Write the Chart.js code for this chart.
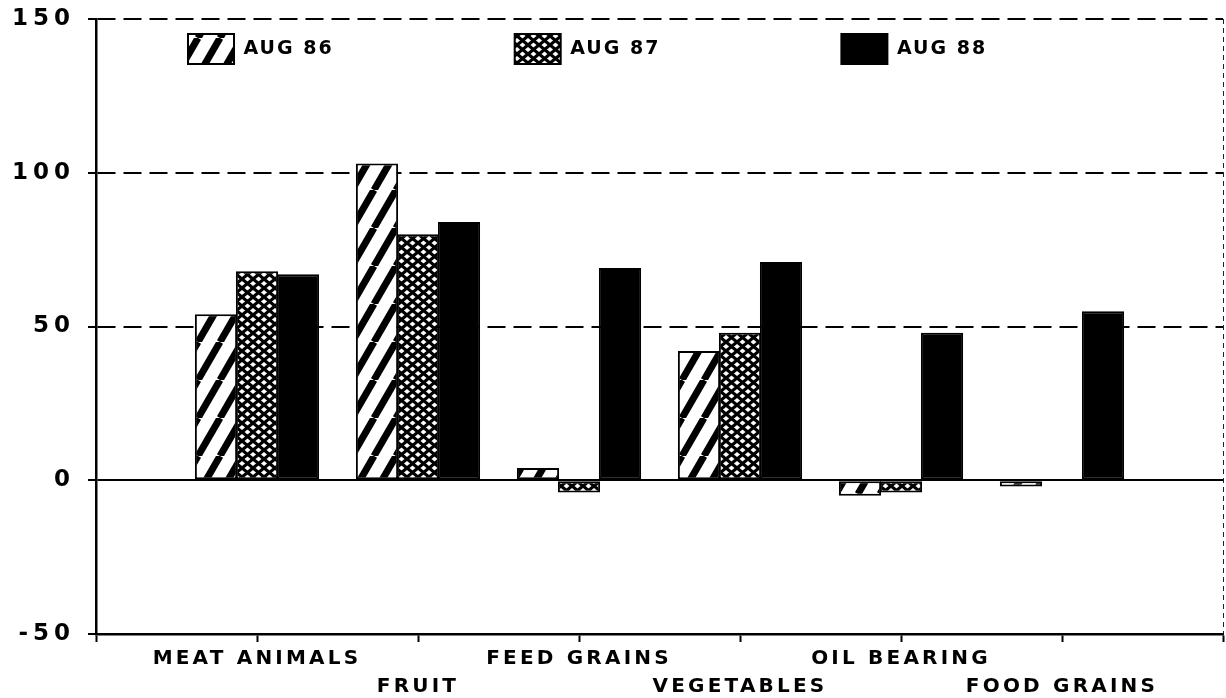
<!DOCTYPE html>
<html><head><meta charset="utf-8">
<script src="https://cdn.jsdelivr.net/npm/chart.js@4/dist/chart.umd.min.js"></script>
<style>html,body{margin:0;padding:0;background:#fff}#wrap{width:1226px;height:698px;position:relative}</style>
</head><body><div id="wrap"><canvas id="c"></canvas></div>
<script>
const categories = ['MEAT ANIMALS','FRUIT','FEED GRAINS','VEGETABLES','OIL BEARING','FOOD GRAINS'];
const seriesNames = ['AUG 86','AUG 87','AUG 88'];
const aug86 = [54, 103, 4, 42, -5, -2];
const aug87 = [68, 80, -4, 48, -4, 0];
const aug88 = [67, 84, 69, 71, 48, 55];
const yTickValues = [-50, 0, 50, 100, 150];

const canvas = document.getElementById('c');
const mainCtx = canvas.getContext('2d');

function makeHatch() {
  const w = 22, h = 38;
  const c = document.createElement('canvas'); c.width = w; c.height = h;
  const g = c.getContext('2d');
  g.fillStyle = '#fff'; g.fillRect(0, 0, w, h);
  g.strokeStyle = '#000'; g.lineWidth = 7;
  for (const k of [-1, 0, 1]) { g.beginPath(); g.moveTo(k * w, h); g.lineTo(k * w + w, 0); g.stroke(); }
  return mainCtx.createPattern(c, 'repeat');
}
function makeCross() {
  const w = 11, h = 9;
  const c = document.createElement('canvas'); c.width = w; c.height = h;
  const g = c.getContext('2d');
  g.fillStyle = '#fff'; g.fillRect(0, 0, w, h);
  g.strokeStyle = '#000'; g.lineWidth = 3.2;
  for (const k of [-1, 0, 1]) {
    g.beginPath(); g.moveTo(k * w, h); g.lineTo(k * w + w, 0); g.stroke();
    g.beginPath(); g.moveTo(k * w, 0); g.lineTo(k * w + w, h); g.stroke();
  }
  return mainCtx.createPattern(c, 'repeat');
}

// padded category axis: empty slot on each side, staggered two-line labels
const labels = [['', ''], ...categories.map((c, i) => i % 2 === 0 ? [c, ''] : ['', c]), ['', '']];
const pad = arr => [null, ...arr, null];
const fills = [makeHatch(), makeCross(), '#000'];
const series = [aug86, aug87, aug88];

function withSpacing(obj, method, sp) {
  if (!obj || obj['_sp_' + method]) return;
  const orig = obj[method];
  obj[method] = function (...a) {
    const c = this.ctx; const p = c.letterSpacing; c.letterSpacing = sp;
    try { return orig.apply(this, a); } finally { c.letterSpacing = p; }
  };
  obj['_sp_' + method] = true;
}

const LEG_PAD = 181;
const tweaks = {
  id: 'tweaks',
  beforeInit(chart) {
    const lg = chart.legend;
    if (lg && !lg._fitPatched) {
      const origFit = lg.fit;
      lg.fit = function () { origFit.call(this); this.height = 0; };
      lg._fitPatched = true;
    }
  },
  afterLayout(chart) {
    const lg = chart.legend;
    if (lg) { lg.left = 188 - LEG_PAD; lg.right = 1224; lg.top = 34 - LEG_PAD; lg.bottom = 110; lg.width = lg.right - lg.left; lg.height = lg.bottom - lg.top; }
  },
  beforeDraw(chart) {
    withSpacing(chart.scales.x, 'drawLabels', '3.2px');
    withSpacing(chart.scales.y, 'drawLabels', '5px');
    withSpacing(chart.legend, 'draw', '2px');
  }
};

const fontFam = '"DejaVu Sans", sans-serif';

new Chart(canvas, {
  type: 'bar',
  data: {
    labels: labels,
    datasets: seriesNames.map((n, i) => ({
      label: n,
      data: pad(series[i]),
      backgroundColor: fills[i],
      borderColor: '#000',
      borderWidth: 2,
      borderSkipped: false,
      categoryPercentage: 0.764,
      barPercentage: 1.03
    }))
  },
  options: {
    responsive: true,
    maintainAspectRatio: false,
    animation: false,
    devicePixelRatio: 1,
    layout: { padding: { top: 19, right: 2, left: 0, bottom: 0 } },
    plugins: {
      tooltip: { enabled: false },
      legend: {
        position: 'top',
        align: 'start',
        labels: {
          boxWidth: 46, boxHeight: 30, padding: LEG_PAD, color: '#000',
          font: { family: fontFam, size: 19, weight: 'bold' }
        }
      }
    },
    scales: {
      x: {
        offset: false,
        grid: {
          offset: false,
          color: ctx => ctx.index === labels.length - 1 ? '#222' : 'rgba(0,0,0,0)',
          lineWidth: 1,
          tickColor: '#000', tickWidth: 2, tickLength: 8, drawTicks: true
        },
        border: { display: true, color: '#000', width: 2.5, dash: ctx => (ctx.index === labels.length - 1 ? [5, 4] : []) },
        ticks: {
          autoSkip: false, maxRotation: 0, minRotation: 0, padding: 3, color: '#000',
          font: { family: fontFam, size: 20, weight: 'bold', lineHeight: 1.4 }
        },
        afterFit: s => { s.height = 64; }
      },
      y: {
        min: yTickValues[0], max: yTickValues[yTickValues.length - 1],
        afterBuildTicks: s => { s.ticks = yTickValues.map(v => ({ value: v })); },
        grid: {
          color: '#000', lineWidth: 2, tickColor: '#000', tickWidth: 2, tickLength: 8
        },
        border: { display: true, color: '#000', width: 2.5, dash: ctx => (ctx.tick && ctx.tick.value !== 0 ? [18, 8] : []) },
        ticks: {
          padding: 13, color: '#000',
          font: { family: fontFam, size: 23, weight: 'bold', lineHeight: 0.3 }
        },
        afterFit: s => { s.width = 96; }
      }
    }
  },
  plugins: [tweaks]
});
</script></body></html>
